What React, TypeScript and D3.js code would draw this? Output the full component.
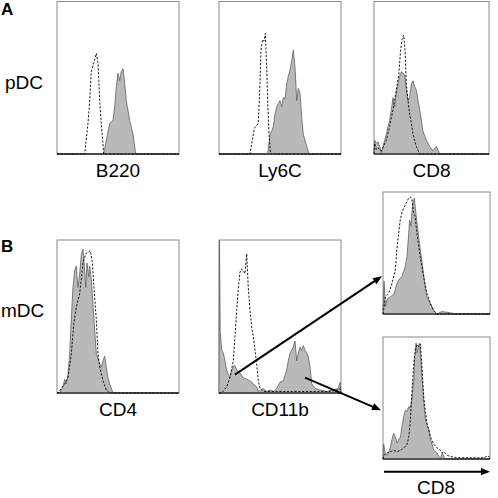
import React from "react";
import * as d3 from "d3";

type Pt = [number, number];

// ---- data: histogram traces (channel 0-1000, % of max count) ----
const b220Iso: Pt[] = [[0,0],[227,0],[254,20],[268,35],[281,54],[303,60],[322,66],[336,60],[350,35],[363,20],[383,0],[1000,0]];
const b220Stain: Pt[] = [[0,0],[383,0],[404,9],[432,20],[459,22],[473,31],[486,44],[500,53],[514,48],[527,54],[541,56],[555,46],[568,35],[596,22],[623,13],[645,0],[1000,0]];

const ly6cIso: Pt[] = [[0,0],[254,0],[290,17],[322,20],[336,46],[344,68],[358,75],[369,74],[380,79],[391,57],[399,35],[410,13],[423,0],[1000,0]];
const ly6cStain: Pt[] = [[0,0],[399,0],[418,13],[432,15],[445,18],[459,26],[473,31],[486,33],[500,35],[514,31],[527,37],[541,36],[555,46],[568,51],[582,55],[596,61],[609,68],[623,57],[637,35],[650,43],[664,40],[678,24],[691,13],[719,5],[738,0],[1000,0]];

const cd8pIso: Pt[] = [[0,0],[6,7],[20,3],[35,4],[64,2],[107,9],[136,18],[165,29],[194,42],[217,53],[229,66],[243,75],[258,78],[270,68],[281,46],[296,35],[310,26],[325,20],[339,13],[368,5],[397,0],[1000,0]];
const cd8pStain: Pt[] = [[0,0],[6,9],[20,7],[35,8],[49,5],[64,1],[78,5],[93,9],[107,13],[122,18],[136,22],[151,29],[165,37],[180,31],[194,40],[209,46],[223,51],[238,54],[252,53],[267,52],[281,42],[296,35],[310,37],[325,46],[339,48],[354,44],[368,42],[383,35],[397,29],[412,22],[426,15],[455,9],[484,5],[513,2],[542,5],[571,0],[1000,0]];

const cd4Iso: Pt[] = [[0,0],[8,0],[36,3],[63,6],[90,10],[117,25],[137,45],[158,56],[186,65],[213,85],[235,91],[254,92],[273,93],[290,85],[303,69],[322,48],[336,26],[350,17],[377,8],[404,2],[432,0],[1000,0]];
const cd4Stain: Pt[] = [[0,0],[22,0],[49,4],[63,9],[76,6],[90,12],[104,25],[117,48],[131,69],[145,80],[158,83],[172,69],[186,78],[200,91],[213,94],[227,80],[236,69],[246,85],[260,76],[268,83],[281,74],[295,58],[309,41],[322,26],[350,19],[364,17],[377,21],[391,24],[404,17],[418,10],[432,6],[459,0],[1000,0]];

const cd11bIso: Pt[] = [[0,0],[22,0],[63,4],[90,10],[117,21],[131,37],[145,54],[158,68],[172,79],[186,81],[199,80],[213,78],[227,91],[240,69],[254,54],[268,43],[281,37],[295,28],[309,19],[322,8],[336,3],[363,1],[500,1],[700,1],[900,1],[978,2],[992,3],[1000,0]];
const cd11bStain: Pt[] = [[0,0],[4,100],[10,40],[22,28],[36,26],[49,21],[63,15],[77,12],[90,10],[104,15],[117,17],[131,18],[145,15],[172,13],[200,10],[227,9],[254,8],[281,6],[309,4],[322,1],[340,2],[363,3],[390,1],[420,2],[450,1],[473,3],[500,7],[527,8],[555,15],[568,21],[582,26],[596,28],[609,30],[623,34],[637,21],[650,26],[664,30],[678,28],[691,31],[705,28],[719,26],[732,24],[746,17],[760,6],[787,3],[828,2],[880,1],[930,2],[978,3],[992,7],[1000,0]];

const cd8hiIso: Pt[] = [[0,0],[6,4],[22,14],[53,17],[84,25],[115,36],[130,53],[146,66],[161,77],[177,83],[193,87],[224,92],[239,95],[255,96],[270,94],[286,83],[300,80],[317,66],[348,47],[379,31],[410,17],[441,9],[472,3],[503,0],[1000,0]];
const cd8hiStain: Pt[] = [[0,0],[10,27],[22,6],[37,12],[68,14],[99,16],[115,20],[130,25],[146,28],[161,29],[177,31],[193,35],[208,39],[224,47],[239,64],[248,77],[261,72],[270,83],[280,91],[292,95],[301,88],[317,75],[332,64],[348,53],[363,44],[379,33],[394,22],[410,14],[441,9],[472,3],[503,0],[550,2],[630,1],[680,0],[1000,0]];

const cd8loIso: Pt[] = [[0,0],[6,3],[38,5],[69,6],[100,7],[131,6],[163,7],[194,9],[225,12],[241,18],[256,32],[272,57],[288,79],[303,90],[319,94],[334,92],[350,94],[366,73],[381,51],[397,38],[413,29],[428,24],[444,18],[475,12],[506,9],[538,7],[553,5],[569,6],[600,3],[631,2],[700,1],[800,1],[944,1],[975,2.5],[990,2],[1000,0]];
const cd8loStain: Pt[] = [[0,0],[6,12],[22,5],[38,3],[53,5],[69,10],[84,16],[100,21],[116,18],[131,13],[147,16],[163,18],[178,27],[194,35],[209,40],[225,39],[241,43],[256,42],[272,51],[288,65],[297,84],[309,95],[319,87],[334,93],[344,95],[356,79],[366,65],[381,46],[397,32],[413,27],[428,24],[444,16],[459,12],[475,7],[491,6],[506,5],[522,2],[538,0.5],[553,5],[569,2],[584,0],[1000,0]];

const axisLabels = ["B220", "Ly6C", "CD8", "CD4", "CD11b"];
const rowLabels = ["pDC", "mDC"];
const panelLetters = ["A", "B"];
const bottomAxisLabel = "CD8";

// ---- layout ----
type Panel = { x: number; y: number; w: number; h: number; iso: Pt[]; stain: Pt[]; label?: string };
const panels: Panel[] = [
  { x: 57, y: 1.5, w: 122, h: 152.5, iso: b220Iso, stain: b220Stain, label: axisLabels[0] },
  { x: 219, y: 1.5, w: 122, h: 152.5, iso: ly6cIso, stain: ly6cStain, label: axisLabels[1] },
  { x: 374, y: 1.5, w: 115, h: 152.5, iso: cd8pIso, stain: cd8pStain, label: axisLabels[2] },
  { x: 57, y: 240, w: 122, h: 153, iso: cd4Iso, stain: cd4Stain, label: axisLabels[3] },
  { x: 219, y: 240, w: 122, h: 153, iso: cd11bIso, stain: cd11bStain, label: axisLabels[4] },
  { x: 383, y: 192, w: 107, h: 122, iso: cd8hiIso, stain: cd8hiStain },
  { x: 383, y: 337, w: 107, h: 122, iso: cd8loIso, stain: cd8loStain },
];

const FONT = "'Liberation Sans', Arial, sans-serif";

function scalesFor(p: Panel) {
  const x = d3.scaleLinear().domain([0, 1000]).range([p.x, p.x + p.w]);
  const y = d3.scaleLinear().domain([0, 100]).range([p.y + p.h, p.y]);
  return { x, y };
}

function HistPanel({ p }: { p: Panel }) {
  const { x, y } = scalesFor(p);
  const area = d3.area<Pt>().x((d) => x(d[0])).y0(y(0)).y1((d) => y(d[1]));
  const line = d3.line<Pt>().x((d) => x(d[0])).y((d) => y(d[1]));
  return (
    <g>
      <rect x={p.x} y={p.y} width={p.w} height={p.h} fill="#fff" stroke="#8a8a8a" strokeWidth={1} />
      <path d={area(p.stain) || ""} fill="#b9b9b9" stroke="#5f5f5f" strokeWidth={0.8} />
      <path d={line(p.iso) || ""} fill="none" stroke="#000" strokeWidth={0.9} strokeDasharray="2.2,1.6" />
      <line x1={p.x} x2={p.x + p.w} y1={p.y + p.h} y2={p.y + p.h} stroke="#111" strokeWidth={1.2} />
      {p.label && (
        <text x={p.x + p.w / 2} y={p.y + p.h + 23} textAnchor="middle" fontFamily={FONT} fontSize={19} fill="#000">
          {p.label}
        </text>
      )}
    </g>
  );
}

function Arrow({ x1, y1, x2, y2 }: { x1: number; y1: number; x2: number; y2: number }) {
  const ang = Math.atan2(y2 - y1, x2 - x1);
  const L = 9, W = 3.6;
  const bx = x2 - L * Math.cos(ang), by = y2 - L * Math.sin(ang);
  const px = -Math.sin(ang) * W, py = Math.cos(ang) * W;
  return (
    <g>
      <line x1={x1} y1={y1} x2={bx + 1 * Math.cos(ang)} y2={by + 1 * Math.sin(ang)} stroke="#000" strokeWidth={2} />
      <polygon points={`${x2},${y2} ${bx + px},${by + py} ${bx - px},${by - py}`} fill="#000" />
    </g>
  );
}

export default function App() {
  const cd11b = scalesFor(panels[4]);
  const hi = scalesFor(panels[5]);
  const lo = scalesFor(panels[6]);
  return (
    <svg width={498} height={498} style={{ position: "absolute", left: 0, top: 0, background: "#fff" }}>
      <rect width={498} height={498} fill="#fff" />
      {panels.map((p, i) => (
        <HistPanel key={i} p={p} />
      ))}
      <text x={1} y={15} fontFamily={FONT} fontWeight="bold" fontSize={17}>{panelLetters[0]}</text>
      <text x={1} y={252} fontFamily={FONT} fontWeight="bold" fontSize={17}>{panelLetters[1]}</text>
      <text x={5} y={89} fontFamily={FONT} fontSize={19}>{rowLabels[0]}</text>
      <text x={1} y={317} fontFamily={FONT} fontSize={19}>{rowLabels[1]}</text>
      <Arrow x1={cd11b.x(131)} y1={cd11b.y(12)} x2={hi.x(0) - 1} y2={hi.y(31)} />
      <Arrow x1={cd11b.x(705)} y1={cd11b.y(10)} x2={lo.x(0) - 2} y2={lo.y(40)} />
      <Arrow x1={384} y1={471.7} x2={490} y2={471.7} />
      <text x={436} y={494} textAnchor="middle" fontFamily={FONT} fontSize={19}>{bottomAxisLabel}</text>
    </svg>
  );
}
